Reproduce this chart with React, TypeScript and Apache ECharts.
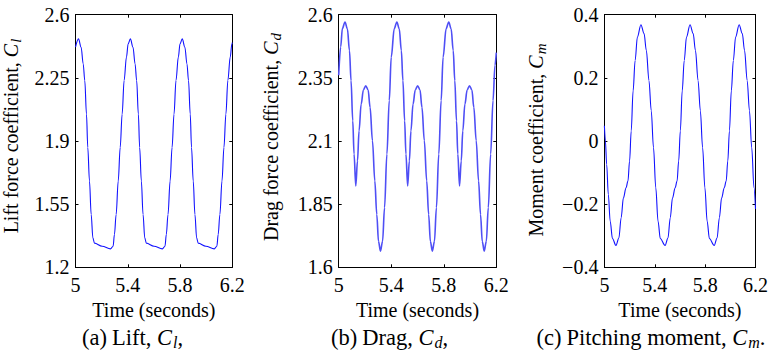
import React, { useEffect, useRef } from 'react';
import * as echarts from 'echarts';

// Tick positions for the three panels
const timeTicks = [5, 5.4, 5.8, 6.2];
const liftTicks = [1.2, 1.55, 1.9, 2.25, 2.6];
const dragTicks = [1.6, 1.85, 2.1, 2.35, 2.6];
const momentTicks = [-0.4, -0.2, 0, 0.2, 0.4];

// Lift force coefficient C_l over time [s, C_l]
const lift: [number, number][] = [
  [5.0, 2.42], [5.023, 2.466], [5.043, 2.42], [5.059, 2.327], [5.071, 2.235], [5.084, 2.049],
  [5.094, 1.864], [5.107, 1.678], [5.12, 1.493], [5.133, 1.363], [5.145, 1.334], [5.204, 1.317],
  [5.268, 1.302], [5.288, 1.317], [5.298, 1.382], [5.311, 1.493], [5.327, 1.678], [5.342, 1.864],
  [5.357, 2.049], [5.372, 2.235], [5.39, 2.365], [5.403, 2.439], [5.42, 2.466],
  [5.44, 2.42], [5.456, 2.327], [5.468, 2.235], [5.481, 2.049], [5.491, 1.864], [5.504, 1.678],
  [5.517, 1.493], [5.53, 1.363], [5.542, 1.334], [5.601, 1.317], [5.665, 1.302], [5.685, 1.317],
  [5.695, 1.382], [5.708, 1.493], [5.724, 1.678], [5.739, 1.864], [5.754, 2.049], [5.769, 2.235],
  [5.787, 2.365], [5.8, 2.439], [5.817, 2.466],
  [5.837, 2.42], [5.853, 2.327], [5.865, 2.235], [5.878, 2.049], [5.888, 1.864], [5.901, 1.678],
  [5.914, 1.493], [5.927, 1.363], [5.939, 1.334], [5.998, 1.317], [6.062, 1.302], [6.082, 1.317],
  [6.092, 1.382], [6.105, 1.493], [6.121, 1.678], [6.136, 1.864], [6.151, 2.049], [6.166, 2.235],
  [6.184, 2.365], [6.197, 2.439], [6.2, 2.445],
];

// Drag force coefficient C_d over time [s, C_d]
const drag: [number, number][] = [
  [5.0, 2.36], [5.015, 2.472], [5.028, 2.545], [5.048, 2.571], [5.066, 2.544], [5.082, 2.458],
  [5.094, 2.339], [5.107, 2.18], [5.117, 2.048], [5.13, 1.922], [5.143, 2.021], [5.155, 2.14],
  [5.171, 2.246], [5.188, 2.302], [5.206, 2.319], [5.224, 2.302], [5.239, 2.233], [5.257, 2.101],
  [5.275, 1.942], [5.29, 1.809], [5.303, 1.703], [5.318, 1.664], [5.334, 1.703], [5.349, 1.836],
  [5.367, 2.048], [5.385, 2.26], [5.4, 2.432], [5.423, 2.545], [5.443, 2.571],
  [5.461, 2.544], [5.477, 2.458], [5.489, 2.339], [5.502, 2.18], [5.512, 2.048], [5.525, 1.922],
  [5.538, 2.021], [5.55, 2.14], [5.566, 2.246], [5.583, 2.302], [5.601, 2.319], [5.619, 2.302],
  [5.634, 2.233], [5.652, 2.101], [5.67, 1.942], [5.685, 1.809], [5.698, 1.703], [5.713, 1.664],
  [5.729, 1.703], [5.744, 1.836], [5.762, 2.048], [5.78, 2.26], [5.795, 2.432], [5.818, 2.545],
  [5.838, 2.571],
  [5.856, 2.544], [5.872, 2.458], [5.884, 2.339], [5.897, 2.18], [5.907, 2.048], [5.92, 1.922],
  [5.933, 2.021], [5.945, 2.14], [5.961, 2.246], [5.978, 2.302], [5.996, 2.319], [6.014, 2.302],
  [6.029, 2.233], [6.047, 2.101], [6.065, 1.942], [6.08, 1.809], [6.093, 1.703], [6.108, 1.664],
  [6.124, 1.703], [6.139, 1.836], [6.157, 2.048], [6.175, 2.26], [6.19, 2.4], [6.2, 2.45],
];

// Pitching moment coefficient C_m over time [s, C_m]
const moment: [number, number][] = [
  [5.0, 0.048], [5.008, 0.0], [5.018, -0.074], [5.031, -0.169], [5.046, -0.254], [5.064, -0.309],
  [5.092, -0.331], [5.115, -0.307], [5.133, -0.243], [5.151, -0.18], [5.172, -0.148], [5.187, -0.127],
  [5.2, -0.063], [5.213, 0.032], [5.228, 0.159], [5.244, 0.255], [5.262, 0.329], [5.29, 0.368],
  [5.315, 0.34], [5.333, 0.287], [5.354, 0.191], [5.372, 0.096], [5.39, -0.021], [5.408, -0.148],
  [5.426, -0.254], [5.444, -0.309], [5.482, -0.331],
  [5.505, -0.307], [5.523, -0.243], [5.541, -0.18], [5.562, -0.148], [5.577, -0.127], [5.59, -0.063],
  [5.603, 0.032], [5.618, 0.159], [5.634, 0.255], [5.652, 0.329], [5.68, 0.368], [5.705, 0.34],
  [5.723, 0.287], [5.744, 0.191], [5.762, 0.096], [5.78, -0.021], [5.798, -0.148], [5.816, -0.254],
  [5.834, -0.309], [5.872, -0.331],
  [5.895, -0.307], [5.913, -0.243], [5.931, -0.18], [5.952, -0.148], [5.967, -0.127], [5.98, -0.063],
  [5.993, 0.032], [6.008, 0.159], [6.024, 0.255], [6.042, 0.329], [6.07, 0.368], [6.095, 0.34],
  [6.113, 0.287], [6.134, 0.191], [6.152, 0.096], [6.17, -0.021], [6.188, -0.148], [6.2, -0.215],
];

const FONT = 'Liberation Serif';

const fmt = (v: number) => String(v).replace('-', '\u2212');

const panels = [
  { left: 75.5, width: 156.8, yMin: 1.2, yMax: 2.6, yTicks: liftTicks, data: lift, color: '#1212ff', lw: 1.1 },
  { left: 338.7, width: 157.6, yMin: 1.6, yMax: 2.6, yTicks: dragTicks, data: drag, color: '#4f4ff5', lw: 1.6 },
  { left: 604.4, width: 156, yMin: -0.4, yMax: 0.4, yTicks: momentTicks, data: moment, color: '#1212ff', lw: 1.1 },
];

const TOP = 14.7;
const HEIGHT = 252.6;

const rich = {
  r: { fontFamily: FONT, fontSize: 20, color: '#000' },
  i: { fontFamily: FONT, fontSize: 20, fontStyle: 'italic', color: '#000' },
  s: { fontFamily: FONT, fontSize: 15, fontStyle: 'italic', color: '#000', padding: [10, 0, 0, 1] },
};
const capRich = {
  lab: { fontFamily: FONT, fontSize: 22.5, color: '#000', padding: [0, 5, 0, 0] },
  r: { fontFamily: FONT, fontSize: 22.5, color: '#000' },
  i: { fontFamily: FONT, fontSize: 22.5, fontStyle: 'italic', color: '#000' },
  s: { fontFamily: FONT, fontSize: 16, fontStyle: 'italic', color: '#000', padding: [10, 0, 0, 1] },
};

const yTitles = [
  { x: 10.5, y: 136, text: '{r|Lift force coefficient, }{i|C}{s|l}' },
  { x: 271, y: 137, text: '{r|Drag force coefficient, }{i|C}{s|d}' },
  { x: 535.5, y: 140, text: '{r|Moment coefficient, }{i|C}{s|m}' },
];
const captions = [
  { x: 132.5, text: '{lab|(a)}{r|Lift, }{i|C}{s|l}{r|,}' },
  { x: 389.5, text: '{lab|(b)}{r|Drag, }{i|C}{s|d}{r|,}' },
  { x: 651, text: '{lab|(c)}{r|Pitching moment, }{i|C}{s|m}{r|.}' },
];

export default function App() {
  const ref = useRef<HTMLDivElement>(null);

  useEffect(() => {
    if (!ref.current) return;
    const chart = echarts.init(ref.current, undefined, { renderer: 'svg' });

    const axisLine = { show: true, onZero: false, lineStyle: { color: '#000', width: 1 } };
    const labelStyle = { fontFamily: FONT, fontSize: 20, color: '#000' };

    const grid: any[] = [];
    const xAxis: any[] = [];
    const yAxis: any[] = [];
    const series: any[] = [];

    panels.forEach((p, k) => {
      grid.push({ left: p.left, top: TOP, width: p.width, height: HEIGHT, containLabel: false });
      xAxis.push({
        gridIndex: k, type: 'value', min: 5, max: 6.2, position: 'bottom',
        axisLine,
        axisTick: { show: true, inside: true, length: 3, customValues: timeTicks, lineStyle: { color: '#000' } },
        axisLabel: { show: true, customValues: timeTicks, margin: 8, formatter: fmt, ...labelStyle },
        splitLine: { show: false },
        name: 'Time (seconds)', nameLocation: 'middle', nameGap: 27.5,
        nameTextStyle: labelStyle,
      });
      xAxis.push({
        gridIndex: k, type: 'value', min: 5, max: 6.2, position: 'top',
        axisLine,
        axisTick: { show: true, inside: true, length: 3, customValues: timeTicks, lineStyle: { color: '#000' } },
        axisLabel: { show: false },
        splitLine: { show: false },
      });
      yAxis.push({
        gridIndex: k, type: 'value', min: p.yMin, max: p.yMax, position: 'left',
        axisLine,
        axisTick: { show: true, inside: true, length: 3, customValues: p.yTicks, lineStyle: { color: '#000' } },
        axisLabel: { show: true, customValues: p.yTicks, margin: 6, formatter: fmt, ...labelStyle },
        splitLine: { show: false },
      });
      yAxis.push({
        gridIndex: k, type: 'value', min: p.yMin, max: p.yMax, position: 'right',
        axisLine,
        axisTick: { show: true, inside: true, length: 3, customValues: p.yTicks, lineStyle: { color: '#000' } },
        axisLabel: { show: false },
        splitLine: { show: false },
      });
      series.push({
        type: 'line', xAxisIndex: 2 * k, yAxisIndex: 2 * k, data: p.data,
        showSymbol: false, smooth: 0.35, smoothMonotone: 'x',
        lineStyle: { color: p.color, width: p.lw },
      });
    });

    const graphic: any[] = [];
    yTitles.forEach((t) => {
      graphic.push({
        type: 'text', x: t.x, y: t.y, rotation: Math.PI / 2,
        style: { text: t.text, rich, align: 'center', verticalAlign: 'middle' },
      });
    });
    captions.forEach((c) => {
      graphic.push({
        type: 'text', x: c.x, y: 337,
        style: { text: c.text, rich: capRich, align: 'center', verticalAlign: 'middle' },
      });
    });

    chart.setOption({ animation: false, grid, xAxis, yAxis, series, graphic });
    return () => chart.dispose();
  }, []);

  return (
    <div
      ref={ref}
      style={{ position: 'absolute', left: 0, top: 0, width: 771, height: 352, background: '#fff' }}
    />
  );
}
